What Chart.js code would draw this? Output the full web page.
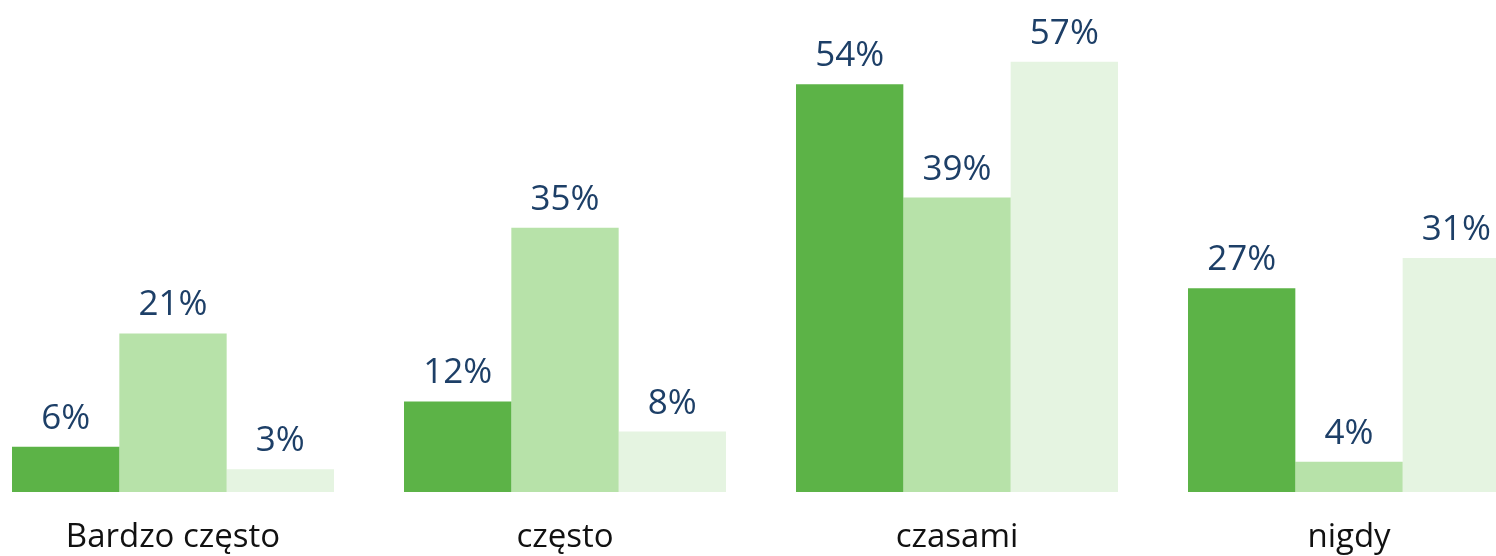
<!DOCTYPE html>
<html>
<head>
<meta charset="utf-8">
<script src="https://cdn.jsdelivr.net/npm/chart.js@4/dist/chart.umd.min.js"></script>
<style>
  html, body { margin: 0; padding: 0; background: #fff; overflow: hidden; }
  #wrap { position: absolute; left: -23px; top: 0; width: 1568px; height: 556px; }
</style>
</head>
<body>
<div id="wrap"><canvas id="chart"></canvas></div>
<script>
const categories = ['Bardzo często', 'często', 'czasami', 'nigdy'];
const series1 = [6, 12, 54, 27];
const series2 = [21, 35, 39, 4];
const series3 = [3, 8, 57, 31];
const colors = ['#5cb347', '#b7e2a9', '#e5f4e1'];

// etykiety wartości nad słupkami
const valueLabels = {
    id: 'valueLabels',
    afterDatasetsDraw(chart) {
        const ctx = chart.ctx;
        ctx.save();
        ctx.font = '35px "Open Sans", sans-serif';
        ctx.fillStyle = '#1d3f67';
        ctx.textAlign = 'center';
        ctx.textBaseline = 'alphabetic';
        chart.data.datasets.forEach((ds, i) => {
            chart.getDatasetMeta(i).data.forEach((bar, j) => {
                ctx.fillText(ds.data[j] + '%', bar.x, bar.y - 18);
            });
        });
        ctx.restore();
    }
};

new Chart(document.getElementById('chart'), {
    type: 'bar',
    data: {
        labels: categories,
        datasets: [
            { data: series1, backgroundColor: colors[0] },
            { data: series2, backgroundColor: colors[1] },
            { data: series3, backgroundColor: colors[2] }
        ]
    },
    options: {
        responsive: true,
        maintainAspectRatio: false,
        animation: false,
        layout: { padding: { top: 39, left: 0, right: 0, bottom: 0 } },
        datasets: { bar: { categoryPercentage: 0.8214, barPercentage: 1.0 } },
        plugins: { legend: { display: false }, tooltip: { enabled: false } },
        scales: {
            x: {
                grid: { display: false },
                border: { display: false },
                ticks: {
                    color: '#111',
                    font: { family: '"Open Sans", sans-serif', size: 33 },
                    padding: 18,
                    maxRotation: 0
                },
                afterFit(scale) { scale.height = 64; }
            },
            y: { display: false, min: 0, max: 60 }
        }
    },
    plugins: [valueLabels]
});
</script>
</body>
</html>
